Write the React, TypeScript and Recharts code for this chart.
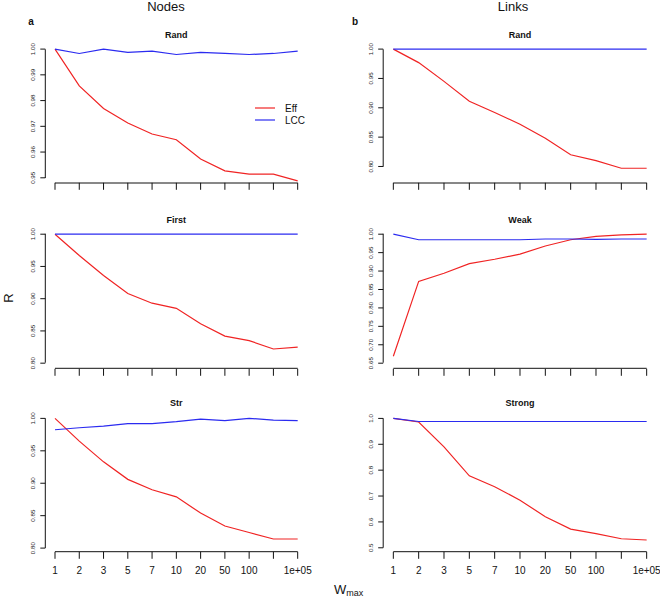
import React from "react";
import { LineChart, Line, XAxis, YAxis } from "recharts";

// ---- data ----
const xLabels = ["1", "2", "3", "5", "7", "10", "20", "50", "100", "", "1e+05"];

const nodesRandEff = [1.0, 0.9857, 0.9769, 0.9713, 0.967, 0.9648, 0.9573, 0.9527, 0.9514, 0.9514, 0.9488];
const nodesRandLcc = [1.0, 0.9983, 1.0, 0.9987, 0.9992, 0.9979, 0.9987, 0.9983, 0.9979, 0.9983, 0.9992];

const linksRandEff = [1.0, 0.977, 0.945, 0.911, 0.892, 0.872, 0.848, 0.82, 0.81, 0.797, 0.797];
const linksRandLcc = [1.0, 1.0, 1.0, 1.0, 1.0, 1.0, 1.0, 1.0, 1.0, 1.0, 1.0];

const nodesFirstEff = [1.0, 0.967, 0.936, 0.908, 0.893, 0.885, 0.861, 0.842, 0.835, 0.822, 0.825];
const nodesFirstLcc = [1.0, 1.0, 1.0, 1.0, 1.0, 1.0, 1.0, 1.0, 1.0, 1.0, 1.0];

const linksWeakEff = [0.669, 0.872, 0.894, 0.92, 0.932, 0.946, 0.968, 0.985, 0.994, 0.998, 1.0];
const linksWeakLcc = [1.0, 0.985, 0.985, 0.985, 0.985, 0.985, 0.987, 0.987, 0.986, 0.987, 0.987];

const nodesStrEff = [1.0, 0.965, 0.933, 0.906, 0.89, 0.879, 0.854, 0.834, 0.824, 0.814, 0.814];
const nodesStrLcc = [0.9825, 0.9856, 0.988, 0.992, 0.992, 0.995, 0.999, 0.9964, 1.0, 0.9974, 0.9964];

const linksStrongEff = [1.0, 0.986, 0.89, 0.778, 0.736, 0.684, 0.62, 0.572, 0.555, 0.535, 0.53];
const linksStrongLcc = [1.0, 0.988, 0.988, 0.988, 0.988, 0.988, 0.988, 0.988, 0.988, 0.988, 0.988];

const ticksNodesRand = [0.95, 0.96, 0.97, 0.98, 0.99, 1.0];
const ticksLinksRand = [0.8, 0.85, 0.9, 0.95, 1.0];
const ticksNodesFirst = [0.8, 0.85, 0.9, 0.95, 1.0];
const ticksLinksWeak = [0.65, 0.7, 0.75, 0.8, 0.85, 0.9, 0.95, 1.0];
const ticksNodesStr = [0.8, 0.85, 0.9, 0.95, 1.0];
const ticksLinksStrong = [0.5, 0.6, 0.7, 0.8, 0.9, 1.0];

const seriesNames = ["Eff", "LCC"];
const columnTitles = ["Nodes", "Links"];
const panelLetters = ["a", "b"];

// ---- layout ----
const FONT = "'Liberation Sans', Arial, Helvetica, sans-serif";
const RED = "#f02424";
const BLUE = "#2b2bf0";
const AXIS = "#111";
const cols = [
  { left: 0, yw: 45.3, pw: 262.1 },
  { left: 330, yw: 53.2, pw: 273.6 },
];
const rowTops = [44.2, 229.5, 412.9];
const PH = 138.8;
const MT = 10;
const XH = 30;
const MR = 14;
const XDOM: [number, number] = [-0.4, 10.4];

type Panel = {
  title: string;
  col: number;
  row: number;
  eff: number[];
  lcc: number[];
  ticks: number[];
  dec: number;
  domain: [number, number];
};

const panels: Panel[] = [
  { title: "Rand", col: 0, row: 0, eff: nodesRandEff, lcc: nodesRandLcc, ticks: ticksNodesRand, dec: 2, domain: [0.94806, 1.00198] },
  { title: "Rand", col: 1, row: 0, eff: linksRandEff, lcc: linksRandLcc, ticks: ticksLinksRand, dec: 2, domain: [0.7722, 1.0087] },
  { title: "First", col: 0, row: 1, eff: nodesFirstEff, lcc: nodesFirstLcc, ticks: ticksNodesFirst, dec: 2, domain: [0.7913, 1.0065] },
  { title: "Weak", col: 1, row: 1, eff: linksWeakEff, lcc: linksWeakLcc, ticks: ticksLinksWeak, dec: 2, domain: [0.6348, 1.0114] },
  { title: "Str", col: 0, row: 2, eff: nodesStrEff, lcc: nodesStrLcc, ticks: ticksNodesStr, dec: 2, domain: [0.7943, 1.0083] },
  { title: "Strong", col: 1, row: 2, eff: linksStrongEff, lcc: linksStrongLcc, ticks: ticksLinksStrong, dec: 1, domain: [0.4845, 1.0209] },
];

const xTicks = xLabels.map((_, i) => i);

function PanelChart({ p }: { p: Panel }) {
  const c = cols[p.col];
  const data = xLabels.map((lab, i) => ({ i, lab, eff: p.eff[i], lcc: p.lcc[i] }));
  const width = c.yw + c.pw + MR;
  const height = MT + PH + XH;
  const bottomRow = p.row === 2;

  const YTick = (props: any) => {
    const { x, y, payload } = props;
    const cx = x + 5 - 12.8;
    return (
      <text
        x={cx}
        y={y}
        transform={`rotate(-90, ${cx}, ${y})`}
        textAnchor="middle"
        dominantBaseline="central"
        fontSize={6.2}
        fontFamily={FONT}
        fill="#222"
      >
        {Number(payload.value).toFixed(p.dec)}
      </text>
    );
  };

  const XTick = (props: any) => {
    const { x, y, payload } = props;
    if (!bottomRow) return <g />;
    return (
      <text
        x={x}
        y={y + 11.3}
        textAnchor="middle"
        dominantBaseline="central"
        fontSize={10}
        fontFamily={FONT}
        fill="#111"
      >
        {xLabels[payload.value]}
      </text>
    );
  };

  return (
    <div style={{ position: "absolute", left: c.left, top: rowTops[p.row] - MT }}>
      <LineChart
        width={width}
        height={height}
        data={data}
        margin={{ top: MT, right: MR, bottom: 0, left: 0 }}
        style={{ overflow: "visible" }}
      >
        <XAxis
          dataKey="i"
          type="number"
          domain={XDOM}
          ticks={xTicks}
          interval={0}
          allowDataOverflow
          height={XH}
          axisLine={false}
          tickLine={{ stroke: AXIS }}
          tickSize={7}
          tickMargin={0}
          tick={XTick}
        />
        <YAxis
          type="number"
          domain={p.domain}
          ticks={p.ticks}
          interval={0}
          allowDataOverflow
          width={c.yw}
          axisLine={false}
          tickLine={{ stroke: AXIS }}
          tickSize={5}
          tickMargin={0}
          tick={YTick}
        />
        <Line type="linear" dataKey="eff" stroke={RED} strokeWidth={1.2} dot={false} isAnimationActive={false} />
        <Line type="linear" dataKey="lcc" stroke={BLUE} strokeWidth={1.2} dot={false} isAnimationActive={false} />
      </LineChart>
    </div>
  );
}

// axis lines spanning first..last tick (R style), from the same layout / domain
function AxisLines({ p }: { p: Panel }) {
  const c = cols[p.col];
  const top = rowTops[p.row];
  const [lo, hi] = p.domain;
  const yPix = (v: number) => top + ((hi - v) / (hi - lo)) * PH;
  const x0 = c.left + c.yw;
  const xPix = (i: number) => x0 + ((i - XDOM[0]) / (XDOM[1] - XDOM[0])) * c.pw;
  const tMin = p.ticks[0];
  const tMax = p.ticks[p.ticks.length - 1];
  return (
    <g>
      <line x1={x0} y1={yPix(tMax)} x2={x0} y2={yPix(tMin)} stroke={AXIS} strokeWidth={1} />
      <line x1={xPix(0)} y1={top + PH} x2={xPix(xTicks.length - 1)} y2={top + PH} stroke={AXIS} strokeWidth={1} />
    </g>
  );
}

export default function App() {
  return (
    <div
      style={{
        position: "absolute",
        left: 0,
        top: 0,
        width: 660,
        height: 598,
        background: "#fff",
        overflow: "hidden",
        fontFamily: FONT,
      }}
    >
      {panels.map((p, k) => (
        <PanelChart key={k} p={p} />
      ))}
      <svg width={660} height={598} style={{ position: "absolute", left: 0, top: 0, pointerEvents: "none" }}>
        {panels.map((p, k) => (
          <AxisLines key={k} p={p} />
        ))}
        {/* column titles */}
        <text x={166} y={6} textAnchor="middle" dominantBaseline="central" fontSize={13} fontFamily={FONT} fill="#111">
          {columnTitles[0]}
        </text>
        <text x={513} y={6} textAnchor="middle" dominantBaseline="central" fontSize={13} fontFamily={FONT} fill="#111">
          {columnTitles[1]}
        </text>
        <text x={31} y={21} textAnchor="middle" dominantBaseline="central" fontSize={10} fontWeight="bold" fontFamily={FONT} fill="#111">
          {panelLetters[0]}
        </text>
        <text x={355} y={21} textAnchor="middle" dominantBaseline="central" fontSize={10} fontWeight="bold" fontFamily={FONT} fill="#111">
          {panelLetters[1]}
        </text>
        {/* panel titles */}
        {panels.map((p, k) => {
          const c = cols[p.col];
          const cx = c.left + c.yw + c.pw / 2;
          return (
            <text
              key={k}
              x={cx}
              y={rowTops[p.row] - 9.5}
              textAnchor="middle"
              dominantBaseline="central"
              fontSize={9}
              fontWeight="bold"
              fontFamily={FONT}
              fill="#111"
            >
              {p.title}
            </text>
          );
        })}
        {/* legend */}
        <line x1={255} y1={108} x2={275} y2={108} stroke={RED} strokeWidth={1.2} />
        <line x1={255} y1={120} x2={275} y2={120} stroke={BLUE} strokeWidth={1.2} />
        <text x={285} y={108} dominantBaseline="central" fontSize={10} fontFamily={FONT} fill="#111">
          {seriesNames[0]}
        </text>
        <text x={285} y={120} dominantBaseline="central" fontSize={10} fontFamily={FONT} fill="#111">
          {seriesNames[1]}
        </text>
        {/* axis labels */}
        <text
          x={8}
          y={298}
          transform="rotate(-90, 8, 298)"
          textAnchor="middle"
          dominantBaseline="central"
          fontSize={13}
          fontFamily={FONT}
          fill="#111"
        >
          R
        </text>
        <text x={334} y={589} fontSize={13} fontFamily={FONT} fill="#111" dominantBaseline="central">
          W
          <tspan fontSize={9} dy={4}>max</tspan>
        </text>
      </svg>
    </div>
  );
}
